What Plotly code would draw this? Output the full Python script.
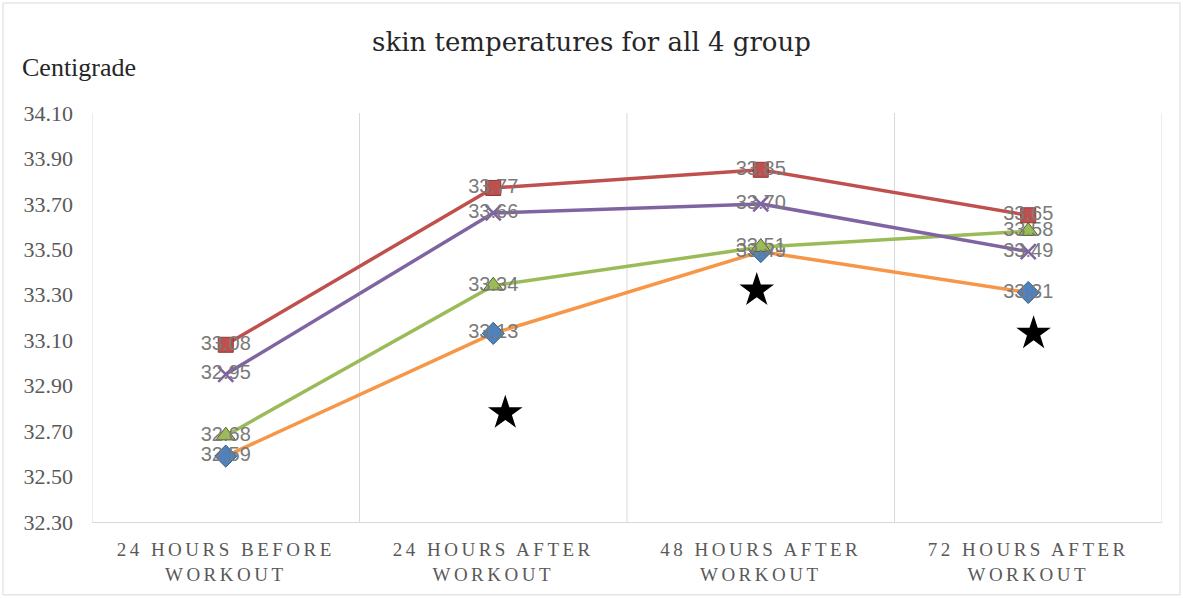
import plotly.graph_objects as go

categories = ["24 HOURS BEFORE<br>WORKOUT", "24 HOURS AFTER<br>WORKOUT",
              "48 HOURS AFTER<br>WORKOUT", "72 HOURS AFTER<br>WORKOUT"]
red_vals = [33.08, 33.77, 33.85, 33.65]
purple_vals = [32.95, 33.66, 33.70, 33.49]
green_vals = [32.68, 33.34, 33.51, 33.58]
orange_vals = [32.59, 33.13, 33.49, 33.31]
star_x = [1.045, 1.985, 3.02]
star_y = [32.78, 33.32, 33.13]
y_ticks = [32.30, 32.50, 32.70, 32.90, 33.10, 33.30, 33.50, 33.70, 33.90, 34.10]

xs = list(range(len(categories)))
label_font = dict(family="Liberation Sans", size=20, color="#7A7A7A")

fig = go.Figure()

def add_series(vals, line_color, marker):
    fig.add_trace(go.Scatter(
        x=xs, y=vals, mode="lines+markers+text",
        line=dict(color=line_color, width=3.5),
        marker=marker,
        text=[f"{v:.2f}" for v in vals],
        textposition="middle center",
        textfont=label_font,
        showlegend=False, cliponaxis=False))

add_series(orange_vals, "#F79646",
           dict(symbol="diamond", size=17, color="#4F81BD", line=dict(color="#385D8A", width=1)))
add_series(green_vals, "#9BBB59",
           dict(symbol="triangle-up", size=17, color="#9BBB59", line=dict(color="#4F6228", width=1)))
add_series(purple_vals, "#8064A2",
           dict(symbol="x-thin", size=15, color="#8064A2", line=dict(color="#8064A2", width=2.5)))
add_series(red_vals, "#C0504D",
           dict(symbol="square", size=15, color="#C0504D", line=dict(color="#8C3836", width=1)))

fig.add_trace(go.Scatter(
    x=star_x, y=star_y, mode="markers",
    marker=dict(symbol="star", size=26, color="black"),
    showlegend=False, hoverinfo="skip"))

# category boundary lines
for i in range(len(categories) + 1):
    fig.add_shape(type="line", xref="x", yref="paper", x0=i - 0.5, x1=i - 0.5,
                  y0=0, y1=1, line=dict(color="#D9D9D9", width=1), layer="below")

# outer border
fig.add_shape(type="rect", xref="paper", yref="paper",
              x0=-0.0832, x1=1.0168, y0=-0.178, y1=1.269,
              line=dict(color="#D9D9D9", width=1))

tick_text = [f'<span style="letter-spacing:3.5px">{c}</span>' for c in categories]

fig.update_layout(
    width=1183, height=598,
    margin=dict(l=92, r=21, t=113, b=76),
    paper_bgcolor="white", plot_bgcolor="white",
    title=dict(text="skin temperatures for all 4 group", x=0.5, xanchor="center",
               y=0.93, yanchor="middle",
               font=dict(family="DejaVu Serif", size=26, color="#262626")),
    xaxis=dict(range=[-0.5, 3.5], tickvals=xs, ticktext=tick_text,
               showgrid=False, zeroline=False, showline=True, linecolor="#D9D9D9",
               linewidth=1, ticks="", ticklabelstandoff=10,
               tickfont=dict(family="Liberation Serif", size=19, color="#595959")),
    yaxis=dict(range=[32.30, 34.10], tickvals=y_ticks,
               ticktext=[f"{v:.2f}" for v in y_ticks],
               showgrid=False, zeroline=False, showline=False, ticks="",
               ticklabelstandoff=18,
               tickfont=dict(family="Liberation Serif", size=22, color="#595959")),
    annotations=[dict(text="Centigrade", xref="paper", yref="paper",
                      x=-0.0673, y=1.112, xanchor="left", yanchor="middle",
                      showarrow=False,
                      font=dict(family="Liberation Serif", size=26, color="#262626"))],
)

fig.write_html("out.html", config={"displayModeBar": False},
               post_script="document.body.style.margin='0';")
